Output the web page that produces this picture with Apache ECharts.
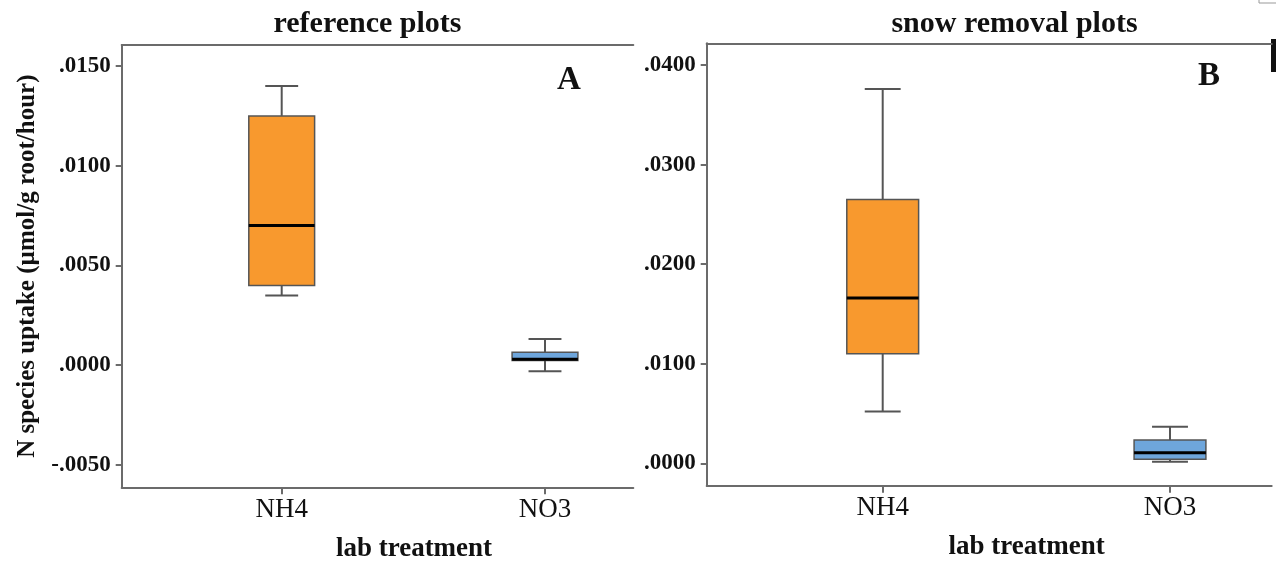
<!DOCTYPE html>
<html>
<head>
<meta charset="utf-8">
<script src="https://cdn.jsdelivr.net/npm/echarts@6/dist/echarts.min.js"></script>
<style>html,body{margin:0;padding:0;background:#fff}#c{width:1276px;height:561px}</style>
</head>
<body>
<div id="c"></div>
<script>
// ---- data ----
const categories = ['NH4', 'NO3'];
const panelTitles = ['reference plots', 'snow removal plots'];
const panelLetters = ['A', 'B'];
const xAxisTitle = 'lab treatment';
const yAxisTitle = 'N species uptake (\u00b5mol/g root/hour)';
// each row: [min, Q1, median, Q3, max]
const referenceStats = [
  [0.0035, 0.0040, 0.0070, 0.0125, 0.0140],
  [-0.0003, 0.00024, 0.0003, 0.00065, 0.00132]
];
const snowRemovalStats = [
  [0.0052, 0.0110, 0.0166, 0.0265, 0.0376],
  [0.00016, 0.0004, 0.00106, 0.00234, 0.00367]
];
const referenceTicks = [-0.005, 0, 0.005, 0.010, 0.015];
const snowRemovalTicks = [0, 0.010, 0.020, 0.030, 0.040];
const boxColors = ['#F8992E', '#6EA6DC'];

// ---- chart ----
const FONT = '"Liberation Serif", "Times New Roman", serif';
const AXIS_COLOR = '#6b6b6b';
const catPositions = categories.map((c, i) => i + 1);

function fmtTick(v) {
  let s = Math.abs(v).toFixed(4).replace(/^0/, '');
  return (v < -1e-12 ? '-' : '') + s;
}

function renderBox(params, api) {
  const x = api.value(0);
  const pMin = api.coord([x, api.value(1)]);
  const pQ1 = api.coord([x, api.value(2)]);
  const pMd = api.coord([x, api.value(3)]);
  const pQ3 = api.coord([x, api.value(4)]);
  const pMax = api.coord([x, api.value(5)]);
  const bw = api.size([0.25, 0])[0];
  const cw = bw / 2;
  const cx = pMin[0];
  const ws = { stroke: '#555', lineWidth: 2 };
  return {
    type: 'group',
    children: [
      { type: 'line', shape: { x1: cx, y1: pQ3[1], x2: cx, y2: pMax[1] }, style: ws },
      { type: 'line', shape: { x1: cx, y1: pMin[1], x2: cx, y2: pQ1[1] }, style: ws },
      { type: 'line', shape: { x1: cx - cw / 2, y1: pMax[1], x2: cx + cw / 2, y2: pMax[1] }, style: ws },
      { type: 'line', shape: { x1: cx - cw / 2, y1: pMin[1], x2: cx + cw / 2, y2: pMin[1] }, style: ws },
      { type: 'rect', shape: { x: cx - bw / 2, y: pQ3[1], width: bw, height: pQ1[1] - pQ3[1] },
        style: { fill: boxColors[params.dataIndex], stroke: '#555', lineWidth: 1.5 } },
      { type: 'line', shape: { x1: cx - bw / 2, y1: pMd[1], x2: cx + bw / 2, y2: pMd[1] },
        style: { stroke: '#000', lineWidth: 3 } }
    ]
  };
}

const grids = [
  { left: 121.7, top: 45, width: 511.6, height: 442.3, outerBoundsMode: 'none', containLabel: false },
  { left: 706.7, top: 43.3, width: 565, height: 442.4, outerBoundsMode: 'none', containLabel: false }
];
const xExtents = [[0.3923, 2.3354], [0.3874, 2.354]];
const yExtents = [[-0.006118, 0.016053], [-0.00225, 0.042179]];
const yTicks = [referenceTicks, snowRemovalTicks];
const stats = [referenceStats, snowRemovalStats];
const xNameShift = [73, 75];

const xAxes = [], yAxes = [], series = [];
grids.forEach((g, gi) => {
  xAxes.push({
    gridIndex: gi, type: 'value', position: 'bottom',
    min: xExtents[gi][0], max: xExtents[gi][1],
    axisLine: { show: true, onZero: false, lineStyle: { color: AXIS_COLOR, width: 2 } },
    axisTick: { show: true, customValues: catPositions, length: 7, lineStyle: { color: AXIS_COLOR, width: 2 } },
    axisLabel: { customValues: catPositions, formatter: v => categories[Math.round(v) - 1] || '',
      fontFamily: FONT, fontSize: 27, color: '#111', margin: 9 },
    splitLine: { show: false },
    name: xAxisTitle, nameLocation: 'middle', nameGap: 48,
    nameTextStyle: { fontFamily: FONT, fontSize: 27, fontWeight: 'bold', color: '#111',
      padding: [0, 0, 0, xNameShift[gi]] }
  });
  xAxes.push({
    gridIndex: gi, type: 'value', position: 'top',
    min: xExtents[gi][0], max: xExtents[gi][1],
    axisLine: { show: true, onZero: false, lineStyle: { color: AXIS_COLOR, width: 2 } },
    axisTick: { show: false }, axisLabel: { show: false }, splitLine: { show: false }
  });
  yAxes.push({
    gridIndex: gi, type: 'value',
    min: yExtents[gi][0], max: yExtents[gi][1],
    axisLine: { show: true, onZero: false, lineStyle: { color: AXIS_COLOR, width: 2 } },
    axisTick: { show: true, customValues: yTicks[gi], length: 6, lineStyle: { color: AXIS_COLOR, width: 2 } },
    axisLabel: { customValues: yTicks[gi], formatter: fmtTick, fontFamily: FONT, fontSize: 23,
      fontWeight: 'bold', color: '#111', margin: 11 },
    splitLine: { show: false },
    name: gi === 0 ? yAxisTitle : '', nameLocation: 'middle', nameRotate: 90, nameGap: 82,
    nameTextStyle: { fontFamily: FONT, fontSize: 25, fontWeight: 'bold', color: '#111' }
  });
  series.push({
    type: 'custom', xAxisIndex: gi * 2, yAxisIndex: gi,
    renderItem: renderBox,
    encode: { x: 0, y: [1, 2, 3, 4, 5] },
    data: categories.map((c, i) => [catPositions[i]].concat(stats[gi][i]))
  });
});

const chart = echarts.init(document.getElementById('c'), null, { renderer: 'canvas' });
chart.setOption({
  backgroundColor: '#fff',
  animation: false,
  title: [
    { text: panelTitles[0], left: 367.5, top: 9, textAlign: 'center', padding: 0,
      textStyle: { fontFamily: FONT, fontSize: 30, fontWeight: 'bold', color: '#111' } },
    { text: panelTitles[1], left: 1014.5, top: 9, textAlign: 'center', padding: 0,
      textStyle: { fontFamily: FONT, fontSize: 30, fontWeight: 'bold', color: '#111' } },
    { text: panelLetters[0], left: 569, top: 64, textAlign: 'center', padding: 0,
      textStyle: { fontFamily: FONT, fontSize: 33, fontWeight: 'bold', color: '#111' } },
    { text: panelLetters[1], left: 1209, top: 60, textAlign: 'center', padding: 0,
      textStyle: { fontFamily: FONT, fontSize: 33, fontWeight: 'bold', color: '#111' } }
  ],
  grid: grids,
  xAxis: xAxes,
  yAxis: yAxes,
  series: series,
  graphic: [
    { type: 'rect', shape: { x: 1271, y: 39, width: 5, height: 33 }, style: { fill: '#111' } },
    { type: 'rect', shape: { x: 1259, y: -3, width: 20, height: 6 }, style: { fill: 'none', stroke: '#999', lineWidth: 1 } }
  ]
});
</script>
</body>
</html>
